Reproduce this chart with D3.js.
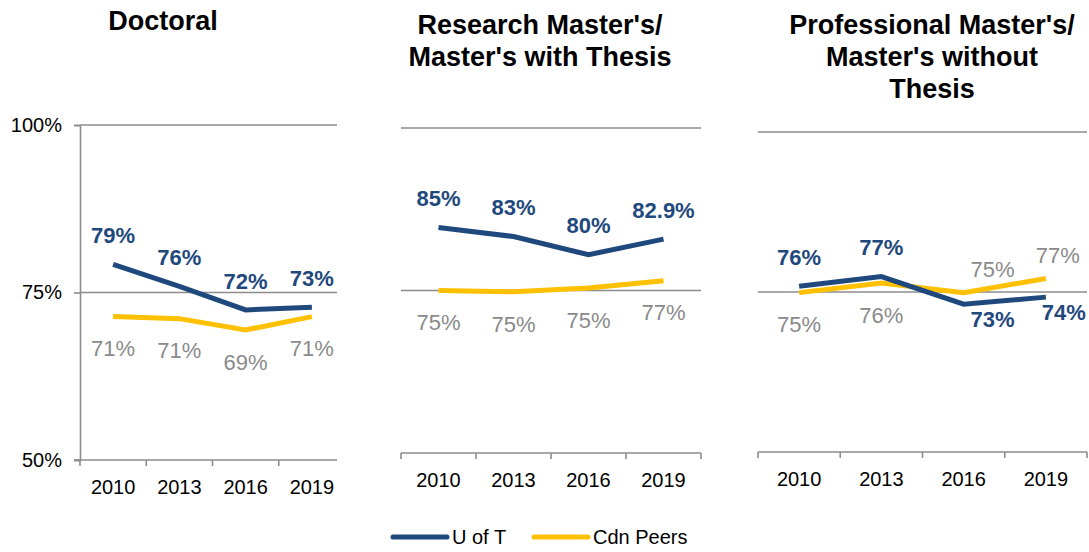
<!DOCTYPE html>
<html>
<head>
<meta charset="utf-8">
<script src="https://cdn.jsdelivr.net/npm/d3@7"></script>
<style>
  body { margin: 0; background: #fff; }
  svg { display: block; font-family: "Liberation Sans", Arial, sans-serif; }
</style>
</head>
<body>
<script>
// data
const years = ['2010', '2013', '2016', '2019'];
const yTicks = [50, 75, 100];

const doctoralUofT = [79.2, 75.9, 72.4, 72.8];
const doctoralPeers = [71.4, 71.1, 69.4, 71.4];
const doctoralUofTLabels = ['79%', '76%', '72%', '73%'];
const doctoralPeersLabels = ['71%', '71%', '69%', '71%'];

const researchUofT = [84.7, 83.3, 80.5, 82.9];
const researchPeers = [75.0, 74.8, 75.4, 76.5];
const researchUofTLabels = ['85%', '83%', '80%', '82.9%'];
const researchPeersLabels = ['75%', '75%', '75%', '77%'];

const profUofT = [75.9, 77.4, 73.1, 74.2];
const profPeers = [74.9, 76.4, 74.9, 77.1];
const profUofTLabels = ['76%', '77%', '73%', '74%'];
const profPeersLabels = ['75%', '76%', '75%', '77%'];

const titles = [
  ['Doctoral'],
  ["Research Master's/", "Master's with Thesis"],
  ["Professional Master's/", "Master's without", 'Thesis']
];
const seriesNames = ['U of T', 'Cdn Peers'];

const BLUE = '#1f497d';
const YELLOW = '#ffc000';
const GRID = '#8c8c8c';
const LABEL_GREY = '#8a8a8a';

const width = 1089, height = 552;

const svg = d3.select('body').append('svg')
  .attr('width', width)
  .attr('height', height);

// 面板布局
const panels = [
  { x0: 80, x1: 345, gridEnd: 337, top: 125, bottom: 460, titleX: 163, yAxis: true,
    uoft: doctoralUofT, peers: doctoralPeers, uLab: doctoralUofTLabels, pLab: doctoralPeersLabels,
    uPos: ['a', 'a', 'a', 'a'], pPos: ['b', 'b', 'b', 'b'], dx: [0, 0, 0, 0], endTick: false },
  { x0: 401, x1: 701, gridEnd: 701, top: 128, bottom: 453, titleX: 540, yAxis: false,
    uoft: researchUofT, peers: researchPeers, uLab: researchUofTLabels, pLab: researchPeersLabels,
    uPos: ['a', 'a', 'a', 'a'], pPos: ['b', 'b', 'b', 'b'], dx: [0, 0, 0, 0], endTick: true },
  { x0: 758, x1: 1087, gridEnd: 1087, top: 132, bottom: 452, titleX: 932, yAxis: false,
    uoft: profUofT, peers: profPeers, uLab: profUofTLabels, pLab: profPeersLabels,
    uPos: ['a', 'a', 'b', 'b'], pPos: ['b', 'b', 'a', 'a'], dx: [0, 0, 29, 12], endTick: true }
];

// label offsets from the point
const off = { ua: -29, ub: 15, pa: -23, pb: 32 };

panels.forEach((p, pi) => {
  const x = d3.scaleBand().domain(years).range([p.x0, p.x1]);
  const y = d3.scaleLinear().domain([50, 100]).range([p.bottom, p.top]);
  const cx = d => x(d) + x.bandwidth() / 2;
  const g = svg.append('g');

  // title
  const t = g.append('text')
    .attr('x', p.titleX)
    .attr('y', 30)
    .attr('text-anchor', 'middle')
    .style('font-size', '27px')
    .style('font-weight', 'bold')
    .style('fill', '#000');
  titles[pi].forEach((line, i) => {
    t.append('tspan').attr('x', p.titleX).attr('dy', i === 0 ? (pi === 0 ? 0 : 4) : 32).text(line);
  });

  // gridlines at 75 and 100
  g.selectAll('.grid')
    .data([75, 100])
    .join('line')
    .attr('x1', p.x0).attr('x2', p.gridEnd)
    .attr('y1', d => y(d)).attr('y2', d => y(d))
    .attr('stroke', GRID).attr('stroke-width', 1.6);

  // x axis
  const xAxis = g.append('g')
    .attr('transform', `translate(0,${y(50)})`)
    .call(d3.axisBottom(x).tickSize(0).tickPadding(20))
    .call(a => a.select('.domain').remove());
  xAxis.selectAll('text')
    .style('font-size', '20px')
    .style('font-family', '"Liberation Sans", Arial, sans-serif')
    .attr('fill', '#000');
  g.append('line')
    .attr('x1', p.yAxis ? p.x0 - 6 : p.x0).attr('x2', p.gridEnd)
    .attr('y1', y(50)).attr('y2', y(50))
    .attr('stroke', GRID).attr('stroke-width', 1.6);
  const edges = years.map(d => x(d));
  if (p.endTick) edges.push(p.x1);
  g.selectAll('.xt')
    .data(edges)
    .join('line')
    .attr('x1', d => d).attr('x2', d => d)
    .attr('y1', y(50)).attr('y2', y(50) + 6)
    .attr('stroke', GRID).attr('stroke-width', 1.6);

  // y axis only on the first panel
  if (p.yAxis) {
    const ya = g.append('g')
      .attr('transform', `translate(${p.x0},0)`)
      .call(d3.axisLeft(y).tickValues(yTicks).tickFormat(d => d + '%').tickSize(6).tickPadding(12));
    ya.select('.domain').attr('stroke', GRID).attr('stroke-width', 1.6);
    ya.selectAll('line').attr('stroke', GRID).attr('stroke-width', 1.6);
    ya.selectAll('text')
      .style('font-size', '20px')
      .style('font-family', '"Liberation Sans", Arial, sans-serif')
      .attr('fill', '#000');
  }

  const line = d3.line()
    .x((d, i) => cx(years[i]))
    .y(d => y(d));

  g.append('path').datum(p.peers)
    .attr('d', line).attr('fill', 'none')
    .attr('stroke', YELLOW).attr('stroke-width', 5);
  g.append('path').datum(p.uoft)
    .attr('d', line).attr('fill', 'none')
    .attr('stroke', BLUE).attr('stroke-width', 5);

  // data labels
  g.selectAll('.pl')
    .data(p.peers)
    .join('text')
    .attr('x', (d, i) => cx(years[i]) + p.dx[i])
    .attr('y', (d, i) => y(d) + (p.pPos[i] === 'a' ? off.pa : off.pb))
    .attr('dy', '0.35em')
    .attr('text-anchor', 'middle')
    .style('font-size', '22px')
    .attr('fill', LABEL_GREY)
    .text((d, i) => p.pLab[i]);

  g.selectAll('.ul')
    .data(p.uoft)
    .join('text')
    .attr('x', (d, i) => cx(years[i]) + p.dx[i] + (pi === 2 && i === 3 ? 6 : 0))
    .attr('y', (d, i) => y(d) + (p.uPos[i] === 'a' ? off.ua : off.ub))
    .attr('dy', '0.35em')
    .attr('text-anchor', 'middle')
    .style('font-size', '22px')
    .style('font-weight', 'bold')
    .attr('fill', BLUE)
    .text((d, i) => p.uLab[i]);
});

// legend
const legend = svg.append('g').attr('transform', 'translate(393,537)');
const legendX = d3.scaleOrdinal().domain(seriesNames).range([0, 141]);
const legendColor = d3.scaleOrdinal().domain(seriesNames).range([BLUE, YELLOW]);
seriesNames.forEach(name => {
  legend.append('line')
    .attr('x1', legendX(name)).attr('x2', legendX(name) + 54)
    .attr('y1', 0).attr('y2', 0)
    .attr('stroke', legendColor(name)).attr('stroke-width', 5)
    .attr('stroke-linecap', 'round');
  legend.append('text')
    .attr('x', legendX(name) + 59)
    .attr('y', 0)
    .attr('dy', '0.35em')
    .style('font-size', '20px')
    .attr('fill', '#000')
    .text(name);
});
</script>
</body>
</html>
